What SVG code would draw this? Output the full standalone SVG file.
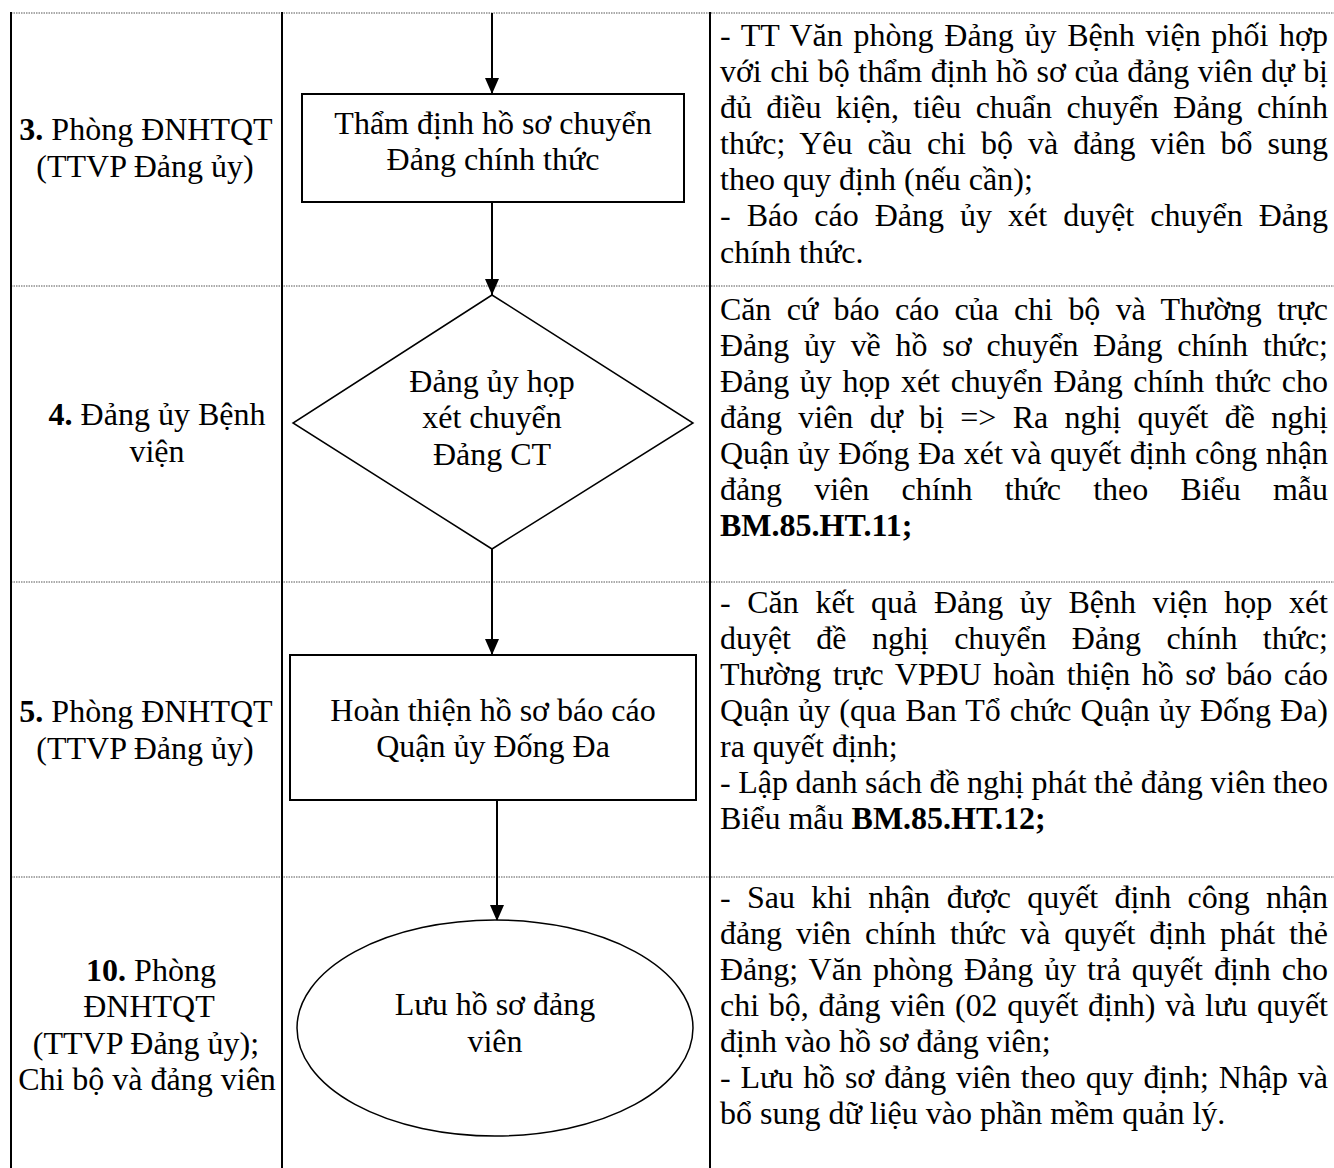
<svg xmlns="http://www.w3.org/2000/svg" width="1334" height="1168" viewBox="0 0 1334 1168">
<style>
.t{font-family:"Liberation Serif","Times New Roman",serif;font-size:32px;fill:#000}
.c{text-anchor:middle}
.b{font-weight:bold}
.grid{stroke:#000;stroke-width:2;fill:none}
.dot{stroke:#555;stroke-width:1;stroke-dasharray:1.5 1;fill:none}
.shape{fill:#fff;stroke:#000;stroke-width:2}
.thin{fill:#fff;stroke:#000;stroke-width:1.5}
.conn{stroke:#000;stroke-width:2;fill:none;marker-end:url(#arr)}
</style>
<defs>
<marker id="arr" viewBox="0 0 14 16" refX="7" refY="16" markerWidth="14" markerHeight="16" markerUnits="userSpaceOnUse" orient="0">
<path d="M0,0 L14,0 L7,16 z" fill="#000"/>
</marker>
</defs>
<rect width="1334" height="1168" fill="#fff"/>

<g id="grid">
<line class="dot" x1="11" y1="13" x2="1334" y2="13"/>
<line class="dot" x1="11" y1="286" x2="1334" y2="286"/>
<line class="dot" x1="11" y1="582" x2="1334" y2="582"/>
<line class="dot" x1="11" y1="877" x2="1334" y2="877"/>
<line class="grid" x1="11" y1="12" x2="11" y2="1168"/>
<line class="grid" x1="282" y1="12" x2="282" y2="1168"/>
<line class="grid" x1="710" y1="12" x2="710" y2="1168"/>
</g>

<g id="connectors">
<line class="conn" x1="492" y1="13" x2="492" y2="94"/>
<line class="conn" x1="492" y1="202" x2="492" y2="295"/>
<line class="conn" x1="492" y1="549" x2="492" y2="655"/>
<line class="conn" x1="497" y1="800" x2="497" y2="921"/>
</g>

<g id="lane-3">
<text class="t c" x="146" y="140"><tspan class="b">3.</tspan> Phòng ĐNHTQT</text>
<text class="t c" x="145" y="177">(TTVP Đảng ủy)</text>
</g>
<g id="lane-4">
<text class="t c" x="157" y="425"><tspan class="b">4.</tspan> Đảng ủy Bệnh</text>
<text class="t c" x="157" y="462">viện</text>
</g>
<g id="lane-5">
<text class="t c" x="146" y="722"><tspan class="b">5.</tspan> Phòng ĐNHTQT</text>
<text class="t c" x="145" y="759">(TTVP Đảng ủy)</text>
</g>
<g id="lane-10">
<text class="t c" x="151" y="981"><tspan class="b">10.</tspan> Phòng</text>
<text class="t c" x="149" y="1017">ĐNHTQT</text>
<text class="t c" x="146" y="1054">(TTVP Đảng ủy);</text>
<text class="t c" x="147" y="1090">Chi bộ và đảng viên</text>
</g>

<g id="node-tham-dinh">
<rect class="shape" x="302" y="94" width="382" height="108"/>
<text class="t c" x="493" y="134">Thẩm định hồ sơ chuyển</text>
<text class="t c" x="493" y="170">Đảng chính thức</text>
</g>
<g id="node-dang-uy-hop">
<polygon class="thin" points="492,295 693,423 492,549 293,423"/>
<text class="t c" x="492" y="392">Đảng ủy họp</text>
<text class="t c" x="492" y="428">xét chuyển</text>
<text class="t c" x="492" y="465">Đảng CT</text>
</g>
<g id="node-hoan-thien">
<rect class="shape" x="290" y="655" width="406" height="145"/>
<text class="t c" x="493" y="721">Hoàn thiện hồ sơ báo cáo</text>
<text class="t c" x="493" y="757">Quận ủy Đống Đa</text>
</g>
<g id="node-luu-ho-so">
<ellipse class="thin" cx="495" cy="1028" rx="198" ry="108"/>
<text class="t c" x="495" y="1015">Lưu hồ sơ đảng</text>
<text class="t c" x="495" y="1052">viên</text>
</g>

<g id="desc-3">
<text class="t" x="720" y="46" word-spacing="2.67" textLength="608" lengthAdjust="spacing">- TT Văn phòng Đảng ủy Bệnh viện phối hợp</text>
<text class="t" x="720" y="82" word-spacing="0.73" textLength="608" lengthAdjust="spacing">với chi bộ thẩm định hồ sơ của đảng viên dự bị</text>
<text class="t" x="720" y="118" word-spacing="6.36" textLength="608" lengthAdjust="spacing">đủ điều kiện, tiêu chuẩn chuyển Đảng chính</text>
<text class="t" x="720" y="154" word-spacing="7.02" textLength="608" lengthAdjust="spacing">thức; Yêu cầu chi bộ và đảng viên bổ sung</text>
<text class="t" x="720" y="190">theo quy định (nếu cần);</text>
<text class="t" x="720" y="226" word-spacing="8.02" textLength="608" lengthAdjust="spacing">- Báo cáo Đảng ủy xét duyệt chuyển Đảng</text>
<text class="t" x="720" y="263">chính thức.</text>
</g>
<g id="desc-4">
<text class="t" x="720" y="320" word-spacing="7.62" textLength="608" lengthAdjust="spacing">Căn cứ báo cáo của chi bộ và Thường trực</text>
<text class="t" x="720" y="356" word-spacing="6.9" textLength="608" lengthAdjust="spacing">Đảng ủy về hồ sơ chuyển Đảng chính thức;</text>
<text class="t" x="720" y="392" word-spacing="2.68" textLength="608" lengthAdjust="spacing">Đảng ủy họp xét chuyển Đảng chính thức cho</text>
<text class="t" x="720" y="428" word-spacing="8.34" textLength="608" lengthAdjust="spacing">đảng viên dự bị =&gt; Ra nghị quyết đề nghị</text>
<text class="t" x="720" y="464" word-spacing="0.5" textLength="608" lengthAdjust="spacing">Quận ủy Đống Đa xét và quyết định công nhận</text>
<text class="t" x="720" y="500" word-spacing="24.3" textLength="608" lengthAdjust="spacing">đảng viên chính thức theo Biểu mẫu</text>
<text class="t b" x="720" y="536">BM.85.HT.11;</text>
</g>
<g id="desc-5">
<text class="t" x="720" y="613" word-spacing="8.6" textLength="608" lengthAdjust="spacing">- Căn kết quả Đảng ủy Bệnh viện họp xét</text>
<text class="t" x="720" y="649" word-spacing="17.5" textLength="608" lengthAdjust="spacing">duyệt đề nghị chuyển Đảng chính thức;</text>
<text class="t" x="720" y="685" word-spacing="3.79" textLength="608" lengthAdjust="spacing">Thường trực VPĐU hoàn thiện hồ sơ báo cáo</text>
<text class="t" x="720" y="721" word-spacing="1.1" textLength="608" lengthAdjust="spacing">Quận ủy (qua Ban Tổ chức Quận ủy Đống Đa)</text>
<text class="t" x="720" y="757">ra quyết định;</text>
<text class="t" x="720" y="793" word-spacing="-0.52" textLength="608" lengthAdjust="spacing">- Lập danh sách đề nghị phát thẻ đảng viên theo</text>
<text class="t" x="720" y="829">Biểu mẫu <tspan class="b">BM.85.HT.12;</tspan></text>
</g>
<g id="desc-10">
<text class="t" x="720" y="908" word-spacing="8.45" textLength="608" lengthAdjust="spacing">- Sau khi nhận được quyết định công nhận</text>
<text class="t" x="720" y="944" word-spacing="6.0" textLength="608" lengthAdjust="spacing">đảng viên chính thức và quyết định phát thẻ</text>
<text class="t" x="720" y="980" word-spacing="2.9" textLength="608" lengthAdjust="spacing">Đảng; Văn phòng Đảng ủy trả quyết định cho</text>
<text class="t" x="720" y="1016" word-spacing="1.78" textLength="608" lengthAdjust="spacing">chi bộ, đảng viên (02 quyết định) và lưu quyết</text>
<text class="t" x="720" y="1052">định vào hồ sơ đảng viên;</text>
<text class="t" x="720" y="1088" word-spacing="1.96" textLength="608" lengthAdjust="spacing">- Lưu hồ sơ đảng viên theo quy định; Nhập và</text>
<text class="t" x="720" y="1124">bổ sung dữ liệu vào phần mềm quản lý.</text>
</g>
</svg>
